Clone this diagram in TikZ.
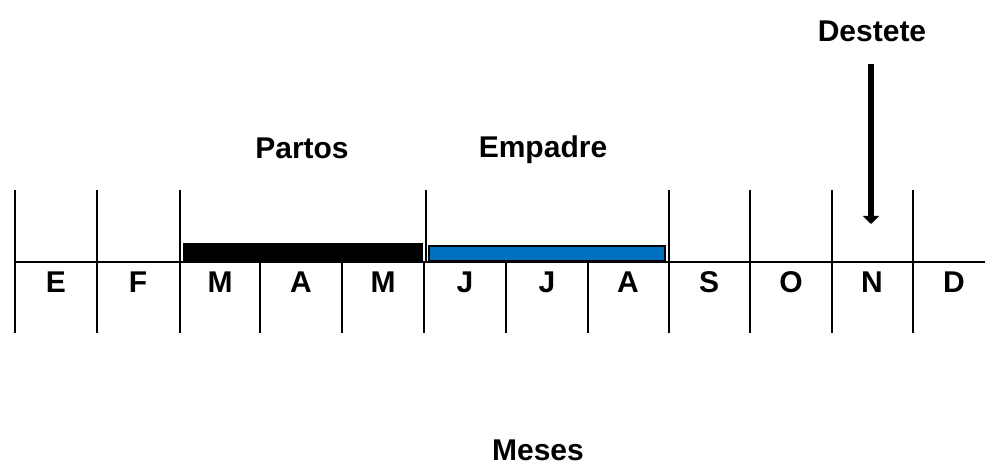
\documentclass[tikz,border=0pt]{standalone}
\usepackage{fontspec}
\setmainfont{Liberation Sans}
\usetikzlibrary{arrows.meta}
\definecolor{barblue}{HTML}{0070C0}
\begin{document}
\begin{tikzpicture}[x=0.75pt,y=-0.75pt,
  lbl/.style={font=\fontsize{22.5}{25}\selectfont\bfseries, inner sep=0pt, anchor=center},
  grid/.style={line width=1.1pt, black},
  bar/.style={fill=black},
  bluebar/.style={fill=barblue, draw=black, line width=0.9pt}]
\useasboundingbox (0,0) rectangle (985,466);
% full height lines
\foreach \x in {15,97,180,669,750,832,913} \draw[grid] (\x,190) -- (\x,333);
\draw[grid] (426,190) -- (426,262);
\draw[grid] (424,262) -- (424,333);
% inner lines
\foreach \x in {260,342,506,588} \draw[grid] (\x,262) -- (\x,333);
% axis
\draw[grid] (15,262) -- (985,262);
% bars
\fill[bar] (183,243) rectangle (423,262);
\draw[bluebar] (429,246) rectangle (665,261);
% months
\foreach \m/\x [count=\i] in {E/56,F/138,M/220,A/301,M/383,J/465,J/547,A/628,S/709,O/791,N/872,D/954}
  \node[lbl] (m\i) at (\x,282) {\m};
% titles
\node[lbl] (partos) at (302,148) {Partos};
\node[lbl] (empadre) at (543,150) {Empadre};
\node[lbl] (destete) at (872,31) {Destete};
\node[lbl] (meses) at (538,450) {Meses};
% arrow
\coordinate (astart) at (871,64);
\coordinate (aend) at (871,224);
\draw[line width=5pt, -{Triangle[length=6pt,width=12pt]}] (astart) -- (aend);
\end{tikzpicture}
\end{document}
